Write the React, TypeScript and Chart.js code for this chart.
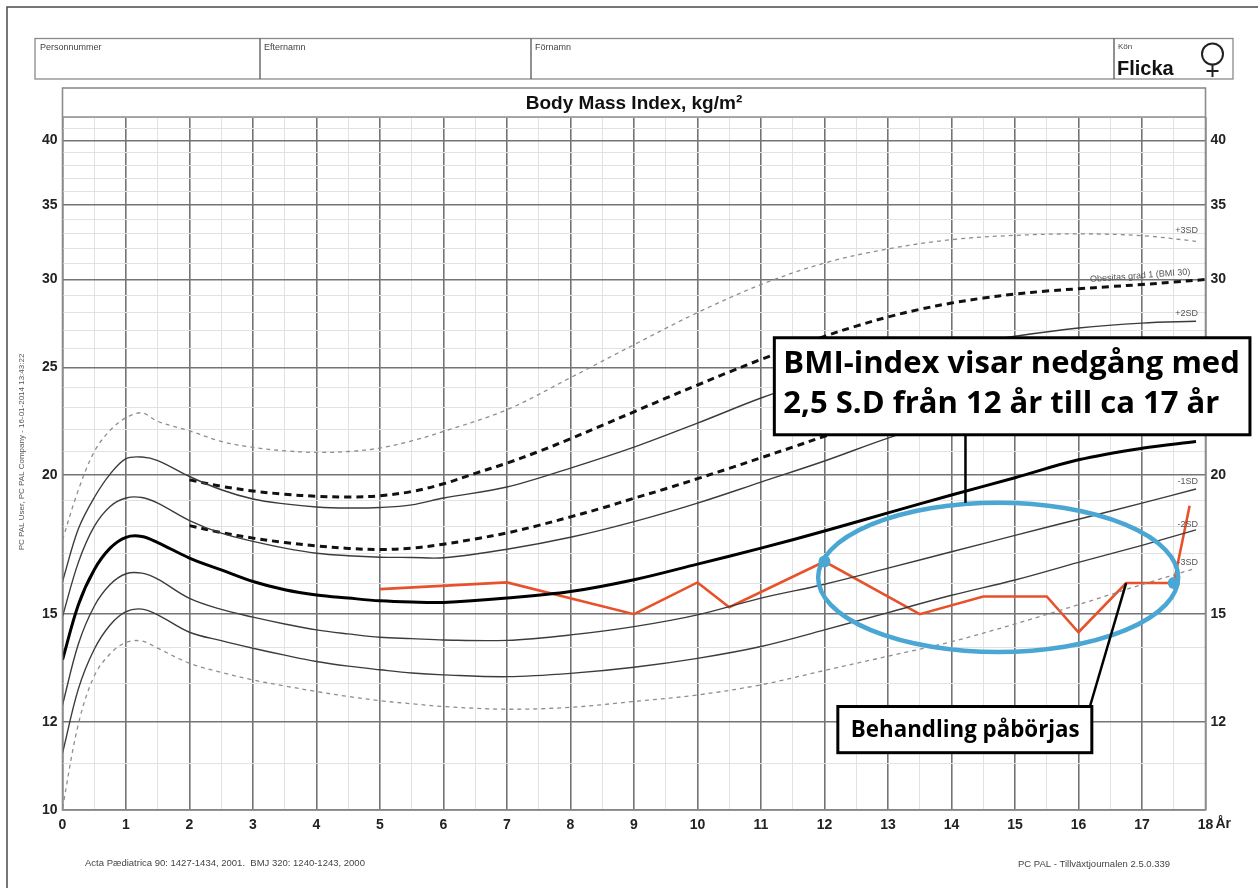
import React, { useEffect, useRef } from "react";
import { Chart, registerables } from "chart.js";
Chart.register(...registerables);

// ---------- data ----------
const AGES = [0, 0.25, 0.5, 0.75, 1, 1.25, 1.5, 2, 2.5, 3, 3.5, 4, 4.5, 5, 5.5, 6, 7, 8, 9, 10, 11, 12, 13, 14, 15, 16, 17, 17.85];
const SD_PLUS3 = [17.5, 19.4, 21.0, 21.95, 22.53, 22.76, 22.36, 21.93, 21.45, 21.19, 21.04, 20.97, 21.01, 21.16, 21.48, 21.9, 22.91, 24.48, 26.21, 28.01, 29.68, 31.04, 31.96, 32.58, 32.87, 32.97, 32.85, 32.47];
const SD_PLUS2 = [16.05, 17.9, 19.1, 20.05, 20.7, 20.77, 20.62, 19.95, 19.41, 19.04, 18.85, 18.73, 18.69, 18.71, 18.81, 19.08, 19.52, 20.3, 21.2, 22.28, 23.47, 24.55, 25.4, 26.1, 26.67, 27.13, 27.41, 27.51];
const SD_PLUS1 = [14.93, 16.7, 17.99, 18.75, 19.08, 19.1, 18.88, 18.21, 17.74, 17.44, 17.2, 17.02, 16.93, 16.88, 16.87, 16.86, 17.16, 17.59, 18.17, 18.88, 19.72, 20.6, 21.6, 22.5, 23.2, 23.7, 24.0, 24.2];
const SD_MEDIAN = [13.65, 15.3, 16.45, 17.2, 17.59, 17.62, 17.4, 16.85, 16.44, 16.05, 15.78, 15.61, 15.51, 15.42, 15.38, 15.37, 15.51, 15.72, 16.11, 16.64, 17.2, 17.82, 18.5, 19.2, 19.9, 20.65, 21.15, 21.45];
const SD_MINUS1 = [12.43, 14.1, 15.25, 15.95, 16.31, 16.33, 16.13, 15.5, 15.15, 14.91, 14.7, 14.52, 14.4, 14.3, 14.26, 14.22, 14.21, 14.37, 14.62, 14.98, 15.51, 15.96, 16.5, 17.07, 17.66, 18.26, 18.88, 19.44];
const SD_MINUS2 = [11.25, 12.85, 13.95, 14.67, 15.08, 15.16, 14.98, 14.45, 14.2, 13.98, 13.78, 13.6, 13.47, 13.37, 13.28, 13.23, 13.18, 13.27, 13.44, 13.69, 14.03, 14.52, 15.05, 15.6, 16.1, 16.7, 17.3, 17.86];
const SD_MINUS3 = [10.04, 11.95, 13.2, 13.82, 14.15, 14.19, 13.98, 13.55, 13.3, 13.09, 12.93, 12.78, 12.65, 12.54, 12.46, 12.39, 12.32, 12.37, 12.52, 12.69, 12.96, 13.35, 13.75, 14.17, 14.7, 15.3, 15.95, 16.5];

const IOTF_AGES = [2, 2.5, 3, 3.5, 4, 4.5, 5, 5.5, 6, 6.5, 7, 7.5, 8, 8.5, 9, 9.5, 10, 10.5, 11, 11.5, 12, 12.5, 13, 13.5, 14, 14.5, 15, 15.5, 16, 16.5, 17, 17.5, 18];
const IOTF_25 = [18.02, 17.76, 17.56, 17.40, 17.28, 17.19, 17.15, 17.20, 17.34, 17.53, 17.75, 18.03, 18.35, 18.69, 19.07, 19.45, 19.86, 20.29, 20.74, 21.20, 21.68, 22.14, 22.58, 22.98, 23.34, 23.66, 23.94, 24.17, 24.37, 24.54, 24.70, 24.85, 25.0];
const IOTF_30 = [19.81, 19.55, 19.36, 19.23, 19.15, 19.12, 19.17, 19.34, 19.65, 20.08, 20.51, 21.01, 21.57, 22.18, 22.81, 23.46, 24.11, 24.77, 25.42, 26.05, 26.67, 27.24, 27.76, 28.20, 28.57, 28.87, 29.11, 29.29, 29.43, 29.56, 29.69, 29.84, 30.0];

const PATIENT_AGES = [5, 7, 9, 10, 10.5, 12, 13.5, 14.5, 15.5, 16, 16.75, 17.5, 17.75];
const PATIENT_BMI = [15.8, 16.02, 15.0, 16.02, 15.22, 16.73, 15.0, 15.56, 15.56, 14.45, 16.0, 16.0, 18.78];
const HIGHLIGHT_AGES = [12, 17.5];

const X_LABEL_TICKS = [0, 1, 2, 3, 4, 5, 6, 7, 8, 9, 10, 11, 12, 13, 14, 15, 16, 17, 18];
const Y_MAJOR = [10, 12, 15, 20, 25, 30, 35, 40];
const Y_RIGHT_LABELS = [12, 15, 20, 25, 30, 35, 40];
const Y_GRID = [10, 11, 12, 13, 14, 15, 16, 17, 18, 19, 20, 21, 22, 23, 24, 25, 26, 27, 28, 29, 30, 31, 32, 33, 34, 35, 36, 37, 38, 39, 40, 41, 42];
const CURVE_LABELS = ["+3SD", "+2SD", "+1SD", "M", "-1SD", "-2SD", "-3SD"];
const OBESITY_LABEL = "Obesitas grad 1 (BMI 30)";
const TITLE = "Body Mass Index, kg/m²";
const NOTE_1 = ["BMI-index visar nedgång med", "2,5 S.D från 12 år till ca 17 år"];
const NOTE_2 = "Behandling påbörjas";

// annotation anchors in data units (age, BMI)
const ELLIPSE_AGE = [11.9, 17.57];
const ELLIPSE_BMI = [18.89, 13.87];
const NOTE1_AGE = [11.21, 18.7];
const NOTE1_BMI = [26.59, 21.75];
const NOTE1_LINK_AGE = 14.22;
const NOTE2_AGE = [12.21, 16.21];
const NOTE2_BMI = [12.39, 11.26];
const NOTE2_LINK = { fromAge: 16.18, toAge: 16.75 };

const SANS = '"Liberation Sans", Arial, Helvetica, sans-serif';
const NOTE_FONT = '"Open Sans", Lato, sans-serif';

const toXY = (xs: number[], ys: number[]) => xs.map((x, i) => ({ x, y: ys[i] }));

const MAJOR_GRID = "#747474";
const MINOR_GRID = "#e2e2e2";

// choose a font size so the text spans the given width
const fitFont = (ctx: CanvasRenderingContext2D, text: string, width: number, family: string) => {
  ctx.font = `bold 20px ${family}`;
  const w = ctx.measureText(text).width;
  return (20 * width) / w;
};

const decor = {
  id: "decor",
  beforeDraw(chart: any) {
    const ctx: CanvasRenderingContext2D = chart.ctx;
    const xs = chart.scales.x;
    ctx.save();
    ctx.fillStyle = "#fff";
    ctx.fillRect(0, 0, chart.width, chart.height);
    // outer page frame
    ctx.strokeStyle = "#4a4a4a";
    ctx.lineWidth = 1.5;
    ctx.beginPath();
    ctx.moveTo(7, chart.height);
    ctx.lineTo(7, 7);
    ctx.lineTo(chart.width, 7);
    ctx.stroke();
    // header box
    ctx.strokeStyle = "#8a8a8a";
    ctx.lineWidth = 1.3;
    ctx.strokeRect(35, 38.5, 1198, 40.5);
    ctx.strokeStyle = "#555";
    [260, 531, 1114].forEach((x) => {
      ctx.beginPath();
      ctx.moveTo(x, 38.5);
      ctx.lineTo(x, 79);
      ctx.stroke();
    });
    ctx.fillStyle = "#444";
    ctx.font = `9px ${SANS}`;
    ctx.textBaseline = "alphabetic";
    ctx.textAlign = "left";
    ctx.fillText("Personnummer", 40, 50);
    ctx.fillText("Efternamn", 264, 50);
    ctx.fillText("Förnamn", 535, 50);
    ctx.font = `8px ${SANS}`;
    ctx.fillText("Kön", 1118, 49);
    ctx.fillStyle = "#111";
    ctx.font = `bold 20px ${SANS}`;
    ctx.fillText("Flicka", 1117, 75);
    // female symbol
    ctx.strokeStyle = "#222";
    ctx.lineWidth = 2;
    ctx.beginPath();
    ctx.arc(1212.5, 54, 10.5, 0, Math.PI * 2);
    ctx.stroke();
    ctx.beginPath();
    ctx.moveTo(1212.5, 64.5);
    ctx.lineTo(1212.5, 77);
    ctx.moveTo(1206.5, 71);
    ctx.lineTo(1218.5, 71);
    ctx.stroke();
    // title strip
    const ca = chart.chartArea;
    ctx.fillStyle = "#111";
    ctx.font = `bold 19px ${SANS}`;
    ctx.textAlign = "center";
    ctx.textBaseline = "middle";
    ctx.fillText(TITLE, (ca.left + ca.right) / 2, 104);
    // side text
    ctx.save();
    ctx.translate(22, 452);
    ctx.rotate(-Math.PI / 2);
    ctx.fillStyle = "#555";
    ctx.font = `8px ${SANS}`;
    ctx.fillText("PC PAL User, PC PAL Company - 16-01-2014 13:43:22", 0, 0);
    ctx.restore();
    // footers
    ctx.fillStyle = "#444";
    ctx.font = `9.5px ${SANS}`;
    ctx.textAlign = "left";
    ctx.fillText("Acta Pædiatrica 90: 1427-1434, 2001.  BMJ 320: 1240-1243, 2000", 85, 863);
    ctx.fillText("PC PAL - Tillväxtjournalen 2.5.0.339", 1018, 864);
    // "År" after the last x label
    ctx.fillStyle = "#222";
    ctx.font = `bold 14px ${SANS}`;
    ctx.textBaseline = "top";
    ctx.fillText("År", xs.getPixelForValue(18) + 10, 817);
    ctx.restore();
  },
  afterDatasetsDraw(chart: any) {
    const ctx: CanvasRenderingContext2D = chart.ctx;
    const xs = chart.scales.x;
    const ys = chart.scales.y;
    const ca = chart.chartArea;
    ctx.save();
    // frame around chart + title strip
    ctx.strokeStyle = "#8c8c8c";
    ctx.lineWidth = 1.6;
    ctx.strokeRect(ca.left, 88, ca.right - ca.left, ca.bottom - 88);
    ctx.beginPath();
    ctx.moveTo(ca.left, ca.top);
    ctx.lineTo(ca.right, ca.top);
    ctx.stroke();

    // curve labels
    ctx.fillStyle = "#555";
    ctx.font = `9px ${SANS}`;
    ctx.textAlign = "right";
    ctx.textBaseline = "alphabetic";
    CURVE_LABELS.forEach((lab, i) => {
      const pts = chart.getDatasetMeta(i).data;
      const p = pts[pts.length - 1];
      const dy = i === 0 ? -8 : i >= 5 ? -3 : -5;
      ctx.fillText(lab, p.x + 2, p.y + dy);
    });
    {
      const pts = chart.getDatasetMeta(7).data;
      const p1 = pts[pts.length - 4];
      const p2 = pts[pts.length - 1];
      const ang = Math.atan2(p2.y - p1.y, p2.x - p1.x);
      ctx.save();
      ctx.translate(p2.x - 15, p2.y - 5);
      ctx.rotate(ang);
      ctx.fillText(OBESITY_LABEL, 0, 0);
      ctx.restore();
    }

    // ellipse
    const exl = xs.getPixelForValue(ELLIPSE_AGE[0]);
    const exr = xs.getPixelForValue(ELLIPSE_AGE[1]);
    const eyt = ys.getPixelForValue(ELLIPSE_BMI[0]);
    const eyb = ys.getPixelForValue(ELLIPSE_BMI[1]);
    ctx.strokeStyle = "#4aa6d2";
    ctx.lineWidth = 4.5;
    ctx.beginPath();
    ctx.ellipse((exl + exr) / 2, (eyt + eyb) / 2, (exr - exl) / 2, (eyb - eyt) / 2, 0, 0, Math.PI * 2);
    ctx.stroke();
    ctx.fillStyle = "#4aa6d2";
    HIGHLIGHT_AGES.forEach((a) => {
      const i = PATIENT_AGES.indexOf(a);
      ctx.beginPath();
      ctx.arc(xs.getPixelForValue(a), ys.getPixelForValue(PATIENT_BMI[i]), 6, 0, Math.PI * 2);
      ctx.fill();
    });

    // note 1
    const n1l = xs.getPixelForValue(NOTE1_AGE[0]);
    const n1r = xs.getPixelForValue(NOTE1_AGE[1]);
    const n1t = ys.getPixelForValue(NOTE1_BMI[0]);
    const n1b = ys.getPixelForValue(NOTE1_BMI[1]);
    ctx.strokeStyle = "#000";
    ctx.lineWidth = 2.5;
    ctx.beginPath();
    ctx.moveTo(xs.getPixelForValue(NOTE1_LINK_AGE), n1b);
    ctx.lineTo(xs.getPixelForValue(NOTE1_LINK_AGE), eyt);
    ctx.stroke();
    ctx.fillStyle = "#fff";
    ctx.fillRect(n1l, n1t, n1r - n1l, n1b - n1t);
    ctx.lineWidth = 3;
    ctx.strokeRect(n1l, n1t, n1r - n1l, n1b - n1t);
    const s1 = fitFont(ctx, NOTE_1[0], n1r - n1l - 19, NOTE_FONT);
    ctx.fillStyle = "#000";
    ctx.font = `bold ${s1}px ${NOTE_FONT}`;
    ctx.textAlign = "left";
    ctx.textBaseline = "middle";
    ctx.fillText(NOTE_1[0], n1l + 9, n1t + 26);
    ctx.fillText(NOTE_1[1], n1l + 9, n1t + 66);

    // note 2
    const n2l = xs.getPixelForValue(NOTE2_AGE[0]);
    const n2r = xs.getPixelForValue(NOTE2_AGE[1]);
    const n2t = ys.getPixelForValue(NOTE2_BMI[0]);
    const n2b = ys.getPixelForValue(NOTE2_BMI[1]);
    const ti = PATIENT_AGES.indexOf(NOTE2_LINK.toAge);
    ctx.lineWidth = 2.5;
    ctx.beginPath();
    ctx.moveTo(xs.getPixelForValue(NOTE2_LINK.fromAge), n2t);
    ctx.lineTo(xs.getPixelForValue(NOTE2_LINK.toAge), ys.getPixelForValue(PATIENT_BMI[ti]));
    ctx.stroke();
    ctx.fillStyle = "#fff";
    ctx.fillRect(n2l, n2t, n2r - n2l, n2b - n2t);
    ctx.lineWidth = 3;
    ctx.strokeRect(n2l, n2t, n2r - n2l, n2b - n2t);
    const s2 = fitFont(ctx, NOTE_2, n2r - n2l - 25, NOTE_FONT);
    ctx.fillStyle = "#000";
    ctx.font = `bold ${s2}px ${NOTE_FONT}`;
    ctx.fillText(NOTE_2, n2l + 13, (n2t + n2b) / 2 + 1);
    ctx.restore();
  },
};

export default function App() {
  const ref = useRef<HTMLCanvasElement>(null);
  useEffect(() => {
    const canvas = ref.current!;
    const thin = "#3c3c3c";
    const light = "#8e8e8e";
    const curve = (label: string, ys: number[], color: string, width: number, dash: number[] = []) => ({
      label,
      data: toXY(AGES, ys),
      borderColor: color,
      borderWidth: width,
      borderDash: dash,
      pointRadius: 0,
      fill: false,
      tension: 0.35,
    });
    const yTickFont = { family: SANS, size: 14, weight: "bold" as const };
    const gridColor = (ctx: any) => (Y_MAJOR.includes(ctx.tick?.value) ? MAJOR_GRID : MINOR_GRID);
    const gridWidth = (ctx: any) => (Y_MAJOR.includes(ctx.tick?.value) ? 1.6 : 1);
    const setTicks = (s: any) => {
      s.ticks = Y_GRID.map((v) => ({ value: v }));
    };
    const chart = new Chart(canvas, {
      type: "line",
      data: {
        datasets: [
          curve(CURVE_LABELS[0], SD_PLUS3, light, 1.3, [4, 4]),
          curve(CURVE_LABELS[1], SD_PLUS2, thin, 1.4),
          curve(CURVE_LABELS[2], SD_PLUS1, thin, 1.4),
          curve(CURVE_LABELS[3], SD_MEDIAN, "#000", 3),
          curve(CURVE_LABELS[4], SD_MINUS1, thin, 1.4),
          curve(CURVE_LABELS[5], SD_MINUS2, thin, 1.4),
          curve(CURVE_LABELS[6], SD_MINUS3, light, 1.3, [4, 4]),
          {
            label: "IOTF 30",
            data: toXY(IOTF_AGES, IOTF_30),
            borderColor: "#111",
            borderWidth: 3,
            borderDash: [7, 5],
            pointRadius: 0,
            tension: 0.35,
          },
          {
            label: "IOTF 25",
            data: toXY(IOTF_AGES, IOTF_25),
            borderColor: "#111",
            borderWidth: 3,
            borderDash: [7, 5],
            pointRadius: 0,
            tension: 0.35,
          },
          {
            label: "Patient",
            data: toXY(PATIENT_AGES, PATIENT_BMI),
            borderColor: "#e8522b",
            borderWidth: 2.6,
            pointRadius: 0,
            tension: 0,
          },
        ],
      },
      options: {
        responsive: false,
        animation: false,
        devicePixelRatio: 1,
        layout: { padding: { top: 117, left: 0, right: 0, bottom: 0 } },
        plugins: { legend: { display: false }, tooltip: { enabled: false }, title: { display: false } },
        scales: {
          x: {
            type: "linear",
            min: 0,
            max: 18,
            border: { display: false },
            ticks: {
              stepSize: 0.5,
              autoSkip: false,
              maxRotation: 0,
              padding: 7,
              color: "#222",
              font: yTickFont,
              callback: (v: any) => (X_LABEL_TICKS.includes(v) ? String(v) : ""),
            },
            grid: {
              drawTicks: false,
              color: (ctx: any) => (Number.isInteger(ctx.tick?.value) ? MAJOR_GRID : MINOR_GRID),
              lineWidth: (ctx: any) => (Number.isInteger(ctx.tick?.value) ? 1.6 : 1),
            },
            afterFit: (s: any) => {
              s.height = 78;
            },
          },
          y: {
            type: "logarithmic",
            position: "left",
            min: 10,
            max: 42,
            border: { display: false },
            afterBuildTicks: setTicks,
            ticks: {
              autoSkip: false,
              padding: 5,
              color: "#222",
              font: yTickFont,
              callback: (v: any) => (Y_MAJOR.includes(v) ? String(v) : ""),
            },
            grid: { drawTicks: false, color: gridColor, lineWidth: gridWidth },
            afterFit: (s: any) => {
              s.width = 62.5;
            },
          },
          y2: {
            type: "logarithmic",
            position: "right",
            min: 10,
            max: 42,
            border: { display: false },
            afterBuildTicks: setTicks,
            ticks: {
              autoSkip: false,
              padding: 5,
              color: "#222",
              font: yTickFont,
              callback: (v: any) => (Y_RIGHT_LABELS.includes(v) ? String(v) : ""),
            },
            grid: { drawTicks: false, drawOnChartArea: false },
            afterFit: (s: any) => {
              s.width = 52.5;
            },
          },
        },
      } as any,
      plugins: [decor],
    });
    return () => chart.destroy();
  }, []);
  return (
    <div style={{ position: "absolute", left: 0, top: 0, width: 1258, height: 888, background: "#fff" }}>
      <canvas ref={ref} width={1258} height={888} style={{ display: "block", width: 1258, height: 888 }} />
    </div>
  );
}
